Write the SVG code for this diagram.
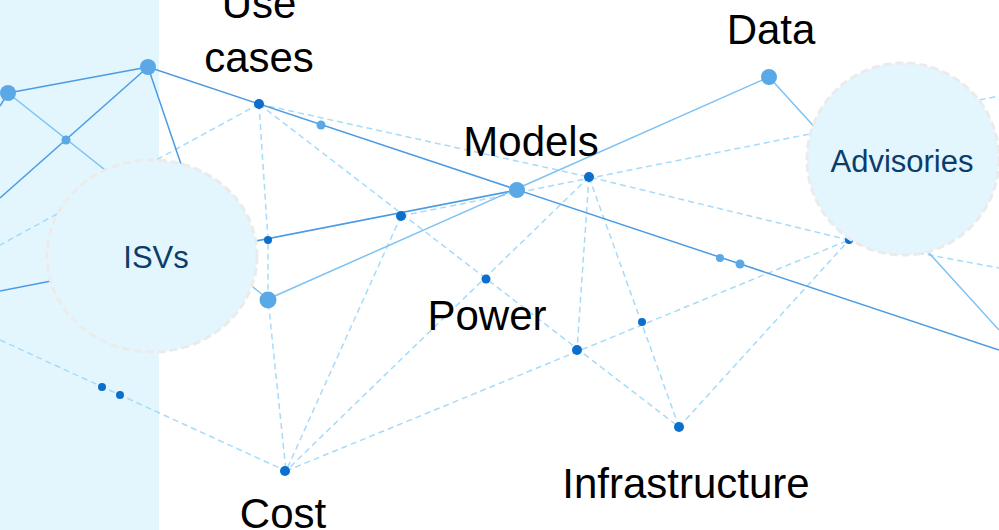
<svg xmlns="http://www.w3.org/2000/svg" width="999" height="530" viewBox="0 0 999 530">
<style>
.bg{fill:#e3f6fe}
.sd{stroke:#4c9be3;stroke-width:1.5;fill:none}
.sl{stroke:#7cc2f3;stroke-width:1.5;fill:none}
.ds{stroke:#a6dbfa;stroke-width:1.5;stroke-dasharray:6 4;fill:none}
.dk{fill:#0b6fcb}
.lt{fill:#5aa8e6}
.hub{fill:#e3f6fe;stroke:#ebebeb;stroke-width:3;stroke-dasharray:8 4}
.lbl{font-family:"Liberation Sans",Arial,sans-serif;font-size:42px;fill:#000;text-anchor:middle}
.hl{font-family:"Liberation Sans",Arial,sans-serif;font-size:31px;fill:#0b3d6b;text-anchor:middle}
</style>
<rect class="bg" x="0" y="0" width="159" height="530"/>
<g id="connectors">
<line class="ds" x1="259" y1="104" x2="0" y2="245"/>
<polyline class="ds" points="259,104 268,240 268,299 286,471"/>
<polyline class="ds" points="259,104 589,177 849,240"/>
<line class="ds" x1="849" y1="240" x2="999" y2="268"/>
<line class="ds" x1="259" y1="104" x2="679" y2="427"/>
<line class="ds" x1="401" y1="216" x2="286" y2="471"/>
<line class="ds" x1="401" y1="216" x2="999" y2="96"/>
<line class="ds" x1="589" y1="177" x2="286" y2="471"/>
<line class="ds" x1="589" y1="177" x2="577" y2="350"/>
<line class="ds" x1="589" y1="177" x2="679" y2="427"/>
<line class="ds" x1="286" y1="471" x2="849" y2="240"/>
<line class="ds" x1="679" y1="427" x2="849" y2="240"/>
<line class="ds" x1="0" y1="340" x2="286" y2="471"/>
<line class="sd" x1="8" y1="93" x2="148" y2="67"/>
<line class="sd" x1="148" y1="67" x2="999" y2="350"/>
<line class="sd" x1="148" y1="67" x2="0" y2="198"/>
<line class="sd" x1="148" y1="67" x2="200" y2="220"/>
<line class="sd" x1="8" y1="93" x2="0" y2="106"/>
<line class="sd" x1="0" y1="291" x2="517" y2="190"/>
<line class="sl" x1="8" y1="93" x2="268" y2="299"/>
<line class="sl" x1="268" y1="299" x2="769" y2="77"/>
<line class="sl" x1="769" y1="77" x2="999" y2="330"/>
</g>
<g id="dots">
<circle class="lt" cx="8" cy="93" r="8"/>
<circle class="lt" cx="148" cy="67" r="8"/>
<circle class="lt" cx="66" cy="140" r="4.5"/>
<circle class="lt" cx="268" cy="300" r="8.5"/>
<circle class="lt" cx="517" cy="190" r="8"/>
<circle class="lt" cx="769" cy="77" r="8"/>
<circle class="lt" cx="321" cy="125" r="4.5"/>
<circle class="lt" cx="720" cy="258" r="4"/>
<circle class="lt" cx="740" cy="264" r="4.5"/>
<circle class="dk" cx="259" cy="104" r="5"/>
<circle class="dk" cx="268" cy="240" r="4"/>
<circle class="dk" cx="401" cy="216" r="5"/>
<circle class="dk" cx="589" cy="177" r="5"/>
<circle class="dk" cx="486" cy="279" r="4.5"/>
<circle class="dk" cx="577" cy="350" r="5"/>
<circle class="dk" cx="642" cy="322" r="4"/>
<circle class="dk" cx="679" cy="427" r="5"/>
<circle class="dk" cx="285" cy="471" r="5"/>
<circle class="dk" cx="102" cy="387" r="4"/>
<circle class="dk" cx="120" cy="395" r="4"/>
<circle class="dk" cx="849" cy="240" r="4"/>
</g>
<g id="isvs">
<ellipse class="hub" cx="152" cy="256" rx="105" ry="96"/>
<text class="hl" x="156" y="268">ISVs</text>
</g>
<g id="advisories">
<circle class="hub" cx="903" cy="159" r="96"/>
<text class="hl" x="902" y="172">Advisories</text>
</g>
<g id="use-cases"><text class="lbl" x="259" y="18">Use</text><text class="lbl" x="259" y="72">cases</text></g>
<g id="data"><text class="lbl" x="771" y="44">Data</text></g>
<g id="models"><text class="lbl" x="531" y="156">Models</text></g>
<g id="power"><text class="lbl" x="487" y="330">Power</text></g>
<g id="infrastructure"><text class="lbl" x="686" y="498">Infrastructure</text></g>
<g id="cost"><text class="lbl" x="283" y="528">Cost</text></g>
</svg>
